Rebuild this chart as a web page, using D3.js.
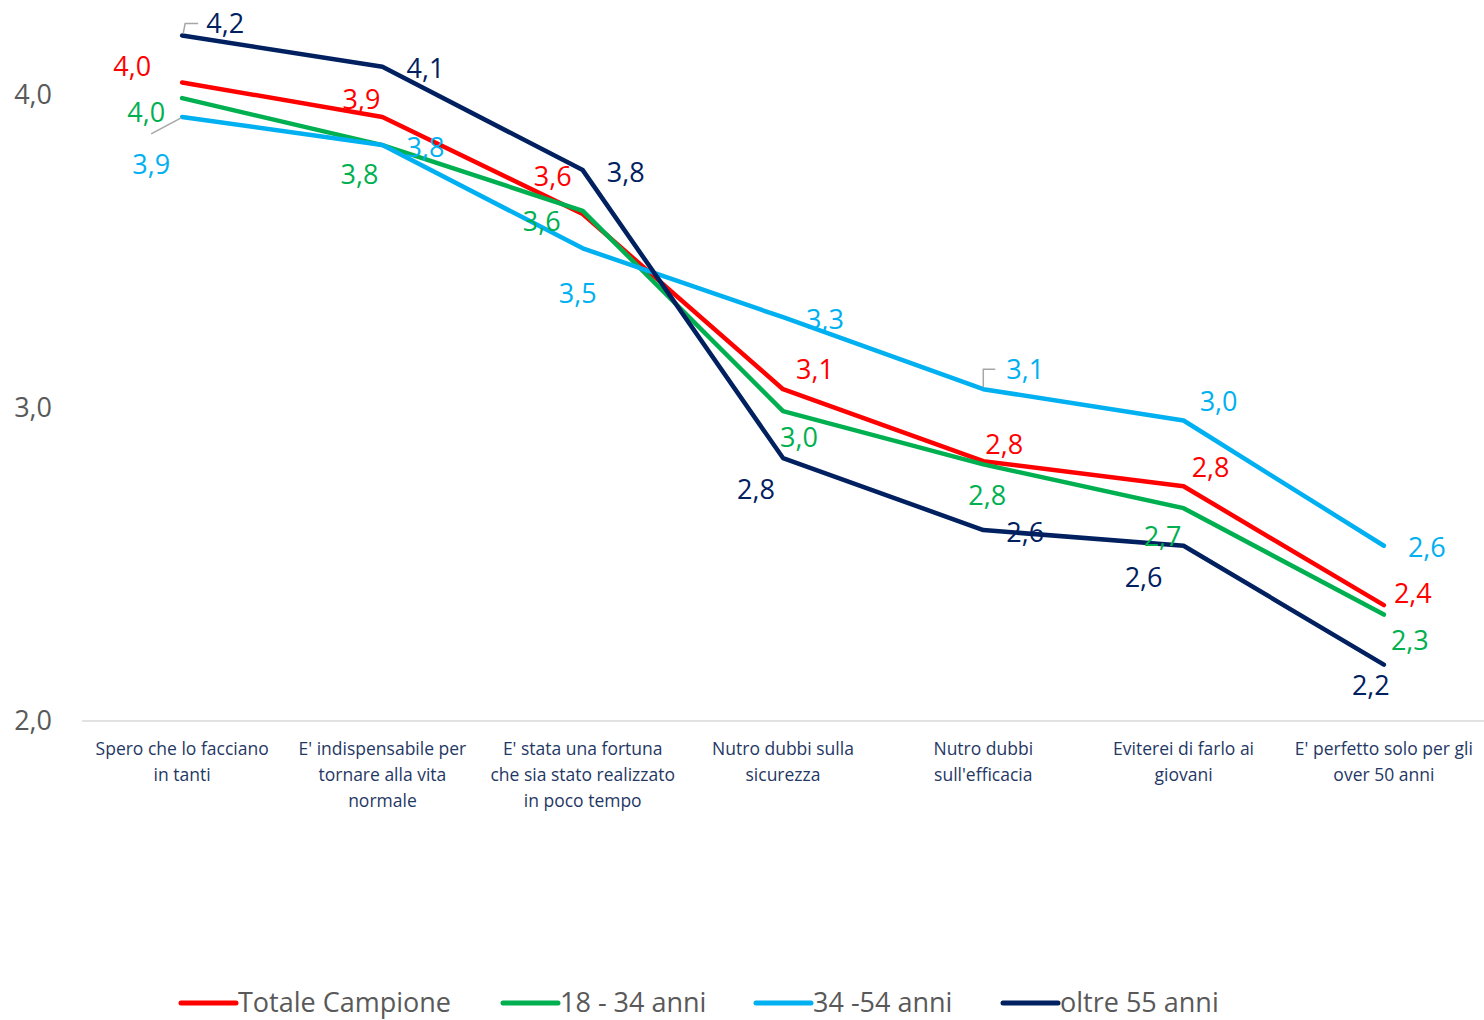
<!DOCTYPE html>
<html lang="it">
<head>
<meta charset="UTF-8">
<title>Opinioni sul vaccino per età</title>
<script src="https://d3js.org/d3.v7.min.js"></script>
<style>
    body { margin: 0; padding: 0; background: #fff; overflow: hidden; }
    svg { display: block; font-family: "Open Sans", sans-serif; }
</style>
</head>
<body>
<div id="chart"></div>
<script>
// data
const categories = [
    ["Spero che lo facciano", "in tanti"],
    ["E' indispensabile per", "tornare alla vita", "normale"],
    ["E' stata una fortuna", "che sia stato realizzato", "in poco tempo"],
    ["Nutro dubbi sulla", "sicurezza"],
    ["Nutro dubbi", "sull'efficacia"],
    ["Eviterei di farlo ai", "giovani"],
    ["E' perfetto solo per gli", "over 50 anni"]
]
const seriesNames = ["Totale Campione", "18 - 34 anni", "34 -54 anni", "oltre 55 anni"]
const totale = [4.04, 3.93, 3.62, 3.06, 2.83, 2.75, 2.37]
const giovani = [3.99, 3.84, 3.63, 2.99, 2.82, 2.68, 2.34]
const adulti = [3.93, 3.84, 3.51, 3.29, 3.06, 2.96, 2.56]
const anziani = [4.19, 4.09, 3.76, 2.84, 2.61, 2.56, 2.18]
const yTicks = [2, 3, 4]

const colors = ["#ff0000", "#00b050", "#00b0f0", "#002060"]

// label offsets (layout), one [dx, dy] per point
const labelOffsets = [
    [[-50, -16], [-21, -17], [-30, -37], [32, -20], [21, -17], [27, -19], [29, -12]],
    [[-36, 14], [-23, 29], [-41, 11], [16, 26], [4, 31], [-21, 28], [26, 26]],
    [[-31, 48], [43, 2], [-5, 45], [42, 2], [42, -20], [35, -19], [43, 2]],
    [[43, -12], [43, 2], [43, 2], [-27, 31], [42, 2], [-40, 32], [-13, 21]]
]

const seriesValues = [totale, giovani, adulti, anziani]
const series = seriesNames.map((name, i) => ({ name, color: colors[i], values: seriesValues[i], offsets: labelOffsets[i] }))

// dimensions
const width = 1484, height = 1020
const margin = { left: 82, right: 0 }

const svg = d3.select("#chart").append("svg")
    .attr("width", width)
    .attr("height", height)

// scales
const xScale = d3.scalePoint()
    .domain(d3.range(categories.length))
    .range([margin.left, width - margin.right])
    .padding(0.5)

const yScale = d3.scaleLinear()
    .domain([2, 4.3])
    .range([721, 721 - 2.3 * 313])

const fmt = v => d3.format(".1f")(v).replace(".", ",")

// y tick labels
svg.append("g")
    .selectAll("text")
    .data(yTicks)
    .join("text")
    .attr("x", 52)
    .attr("y", d => yScale(d))
    .attr("dy", "0.35em")
    .attr("text-anchor", "end")
    .attr("fill", "#595959")
    .style("font-size", "27px")
    .text(d => fmt(d))

// x axis line
svg.append("line")
    .attr("x1", margin.left)
    .attr("x2", width)
    .attr("y1", yScale(2))
    .attr("y2", yScale(2))
    .attr("stroke", "#d9d9d9")
    .attr("stroke-width", 1.5)

// category labels
const catG = svg.append("g")
categories.forEach((lines, i) => {
    const t = catG.append("text")
        .attr("x", xScale(i))
        .attr("y", 755)
        .attr("text-anchor", "middle")
        .attr("fill", "#1f3864")
        .style("font-size", "17.5px")
    lines.forEach((l, j) => {
        t.append("tspan")
            .attr("x", xScale(i))
            .attr("dy", j === 0 ? 0 : 26)
            .text(l)
    })
})

// lines
const lineGenerator = d3.line()
    .x((d, i) => xScale(i))
    .y(d => yScale(d))

svg.append("g")
    .selectAll("path")
    .data(series)
    .join("path")
    .attr("d", d => lineGenerator(d.values))
    .attr("fill", "none")
    .attr("stroke", d => d.color)
    .attr("stroke-width", 4.5)
    .attr("stroke-linejoin", "round")
    .attr("stroke-linecap", "round")

// leader lines
const leader = svg.append("g")
    .attr("fill", "none")
    .attr("stroke", "#a6a6a6")
    .attr("stroke-width", 1.5)
// light blue, first point
leader.append("path")
    .attr("d", `M${xScale(0) - 1},${yScale(adulti[0]) + 1} L${xScale(0) - 31},${yScale(adulti[0]) + 17}`)
// navy, first point
leader.append("path")
    .attr("d", `M${xScale(0) + 1},${yScale(anziani[0]) - 2} L${xScale(0) + 3},${yScale(anziani[0]) - 12} L${xScale(0) + 16},${yScale(anziani[0]) - 12}`)
// light blue, fifth point
leader.append("path")
    .attr("d", `M${xScale(4)},${yScale(adulti[4]) - 2} L${xScale(4)},${yScale(adulti[4]) - 20} L${xScale(4) + 12},${yScale(adulti[4]) - 20}`)

// value labels
series.forEach(s => {
    svg.append("g")
        .selectAll("text")
        .data(s.values)
        .join("text")
        .attr("x", (d, i) => xScale(i) + s.offsets[i][0])
        .attr("y", (d, i) => yScale(d) + s.offsets[i][1])
        .attr("dy", "0.35em")
        .attr("text-anchor", "middle")
        .attr("fill", s.color)
        .style("font-size", "27px")
        .text(d => fmt(d))
})

// legend
const legendX = [181, 503, 756, 1003]
const legend = svg.append("g")
    .selectAll("g")
    .data(series)
    .join("g")
    .attr("transform", (d, i) => `translate(${legendX[i]}, 1003)`)

legend.append("line")
    .attr("x1", 0)
    .attr("x2", 55)
    .attr("stroke", d => d.color)
    .attr("stroke-width", 5)
    .attr("stroke-linecap", "round")

legend.append("text")
    .attr("x", 57)
    .attr("dy", "0.35em")
    .attr("fill", "#595959")
    .style("font-size", "27px")
    .text(d => d.name)
</script>
</body>
</html>
